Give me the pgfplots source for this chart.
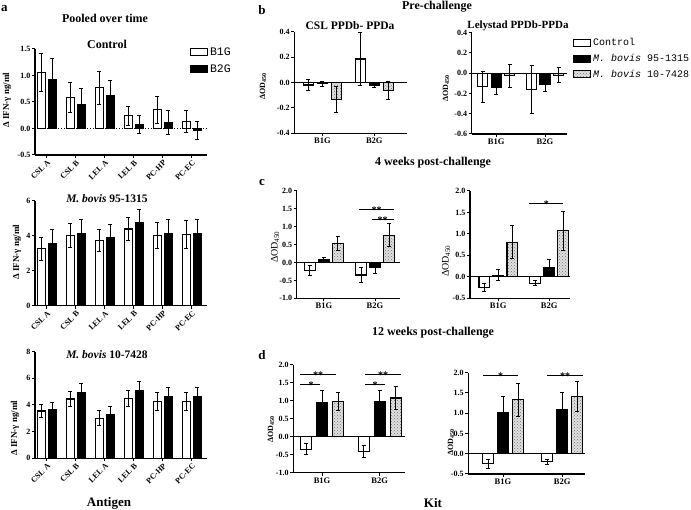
\documentclass[border=0pt]{standalone}
\usepackage{pgfplots}
\pgfplotsset{compat=1.18}
\usepackage{fontspec}
\setmainfont{Liberation Serif}
\newfontfamily\monofont{Liberation Mono}
\usetikzlibrary{patterns}
\tikzset{sigstar/.style={font=\bfseries\fontsize{10}{10}\selectfont, inner sep=0pt, anchor=base, yshift=-4pt}}
\pgfplotsset{
  base/.style={
    scale only axis, clip=false,
    axis x line*=bottom, axis y line*=left,
    axis line style={line width=1.1pt},
    tick style={line width=1pt, black},
    tick align=outside, major tick length=3pt,
    /pgf/number format/assume math mode=true,
    ticklabel style={font=\bfseries\fontsize{8}{9}\selectfont, inner sep=1.5pt},
    yticklabel style={/pgf/number format/fixed, /pgf/number format/fixed zerofill, /pgf/number format/precision=1},
    ybar,
    every axis plot/.append style={error bars/y dir=both, error bars/y explicit,
      error bars/error bar style={line width=1pt, black},
      error bars/error mark options={rotate=90, mark size=2pt, line width=1pt, black}},
    every axis plot post/.append style={legend image code/.code={\draw[##1, line width=1pt] (0pt,-3.5pt) rectangle (17pt,3.5pt);}},
    legend cell align=left,
  },
  wbar/.style={fill=white, draw=black, line width=1.1pt},
  kbar/.style={fill=black, draw=black, line width=1.1pt},
  dbar/.style={fill=black!12, draw=black, line width=1.1pt, postaction={pattern=crosshatch dots, pattern color=black!55}},
  agroup/.style={base, xmin=-0.41, xmax=5.52, xtick={0,1,2,3,4,5},
    xticklabels={CSL A, CSL B, LEL A, LEL B, PC-HP, PC-EC},
    xticklabel style={rotate=45, anchor=north east, inner sep=1pt}, bar width=8pt},
  kit/.style={base, xtick={0,1}, xticklabels={B1G,B2G},
    xticklabel style={font=\bfseries\fontsize{8.5}{9}\selectfont}},
}
\begin{document}
\begin{tikzpicture}[x=1pt,y=1pt]
\useasboundingbox (0,0) rectangle (691,510);
% ---------------- panel a top
\begin{axis}[agroup, at={(35pt,355pt)}, anchor=south west, width=172pt, height=106pt,
  ymin=-0.5, ymax=1.5, ytick={-0.5,0,0.5,1,1.5},
  legend style={at={(0.90,1.035)}, anchor=north west, draw=none, fill=none,
    font=\monofont\fontsize{11.5}{11.5}\selectfont, row sep=4pt, inner sep=0pt},
  legend entries={B1G,B2G}]
\addplot[wbar, bar shift=-5.5pt] coordinates {(0,1.05) +- (0,0.36) (1,0.58) +- (0,0.28) (2,0.77) +- (0,0.31) (3,0.24) +- (0,0.18) (4,0.35) +- (0,0.26) (5,0.13) +- (0,0.20)};
\addplot[kbar, bar shift=5.5pt] coordinates {(0,0.93) +- (0,0.39) (1,0.45) +- (0,0.30) (2,0.62) +- (0,0.28) (3,0.07) +- (0,0.17) (4,0.11) +- (0,0.22) (5,-0.03) +- (0,0.17)};
\draw[dotted, line width=0.9pt] (axis cs:-0.41,0) -- (axis cs:5.52,0);
\end{axis}
% ---------------- panel a middle
\begin{axis}[agroup, at={(35pt,204.3pt)}, anchor=south west, width=172pt, height=105pt,
  ymin=0, ymax=6, ytick={0,2,4,6},
  yticklabel style={/pgf/number format/precision=0, /pgf/number format/fixed zerofill=false}]
\addplot[wbar, bar shift=-5.5pt] coordinates {(0,3.25) +- (0,0.65) (1,4.0) +- (0,0.7) (2,3.75) +- (0,0.63) (3,4.38) +- (0,0.67) (4,4.0) +- (0,0.75) (5,4.07) +- (0,0.78)};
\addplot[kbar, bar shift=5.5pt] coordinates {(0,3.55) +- (0,0.78) (1,4.12) +- (0,0.78) (2,3.92) +- (0,0.73) (3,4.77) +- (0,0.73) (4,4.12) +- (0,0.8) (5,4.12) +- (0,0.83)};
\end{axis}
% ---------------- panel a bottom
\begin{axis}[agroup, at={(35pt,51.7pt)}, anchor=south west, width=172pt, height=106.6pt,
  ymin=0, ymax=8, ytick={0,2,4,6,8},
  yticklabel style={/pgf/number format/precision=0, /pgf/number format/fixed zerofill=false}]
\addplot[wbar, bar shift=-5.5pt] coordinates {(0,3.55) +- (0,0.5) (1,4.45) +- (0,0.6) (2,3.0) +- (0,0.55) (3,4.5) +- (0,0.62) (4,4.25) +- (0,0.7) (5,4.25) +- (0,0.7)};
\addplot[kbar, bar shift=5.5pt] coordinates {(0,3.65) +- (0,0.57) (1,4.9) +- (0,0.68) (2,3.32) +- (0,0.58) (3,5.1) +- (0,0.65) (4,4.6) +- (0,0.7) (5,4.6) +- (0,0.73)};
\end{axis}
% ---------------- panel b left
\begin{axis}[kit, at={(294.3pt,376.7pt)}, anchor=south west, width=112.7pt, height=101.6pt,
  xmin=-0.54, xmax=1.63, ymin=-0.4, ymax=0.4, ytick={-0.4,-0.2,0,0.2,0.4}, bar width=10pt]
\addplot[wbar, bar shift=-14pt] coordinates {(0,-0.02) +- (0,0.045) (1,0.185) +- (0,0.21)};
\addplot[kbar, bar shift=0pt] coordinates {(0,-0.01) +- (0,0.02) (1,-0.02) +- (0,0.02)};
\addplot[dbar, bar shift=14pt] coordinates {(0,-0.135) +- (0,0.105) (1,-0.065) +- (0,0.07)};
\draw[line width=1.1pt] (axis cs:-0.54,0) -- (axis cs:1.63,0);
\end{axis}
% ---------------- panel b right
\begin{axis}[kit, at={(471.7pt,376pt)}, anchor=south west, width=95.3pt, height=101.3pt,
  xmin=-0.5, xmax=1.45, ymin=-0.6, ymax=0.4, ytick={-0.6,-0.4,-0.2,0,0.2,0.4}, bar width=10pt,
  legend style={at={(1.063,0.965)}, anchor=north west, draw=none, fill=none,
    font=\monofont\fontsize{10}{10}\selectfont, row sep=3pt, inner sep=0pt},
  legend entries={Control, \textit{M. bovis} 95-1315, \textit{M. bovis} 10-7428}]
\addplot[wbar, bar shift=-13.5pt] coordinates {(0,-0.135) +- (0,0.15) (1,-0.16) +- (0,0.24)};
\addplot[kbar, bar shift=0pt] coordinates {(0,-0.14) +- (0,0.075) (1,-0.11) +- (0,0.07)};
\addplot[dbar, bar shift=13.5pt] coordinates {(0,-0.025) +- (0,0.115) (1,-0.02) +- (0,0.075)};
\draw[line width=1.1pt] (axis cs:-0.5,0) -- (axis cs:1.45,0);
\end{axis}
% ---------------- panel c left
\begin{axis}[kit, at={(296.7pt,211.7pt)}, anchor=south west, width=103.3pt, height=107.3pt,
  xmin=-0.535, xmax=1.49, ymin=-1, ymax=2, ytick={-1,-0.5,0,0.5,1,1.5,2}, bar width=10.5pt]
\addplot[wbar, bar shift=-14pt] coordinates {(0,-0.22) +- (0,0.13) (1,-0.35) +- (0,0.2)};
\addplot[kbar, bar shift=0pt] coordinates {(0,0.07) +- (0,0.065) (1,-0.15) +- (0,0.15)};
\addplot[dbar, bar shift=14pt] coordinates {(0,0.53) +- (0,0.2) (1,0.76) +- (0,0.32)};
\draw[line width=1.1pt] (axis cs:-0.535,0) -- (axis cs:1.49,0);
\draw[line width=0.8pt] (axis cs:0.69,1.49) -- (axis cs:1.38,1.49);
\node[sigstar] at (axis cs:1.03,1.49) {**};
\draw[line width=0.8pt] (axis cs:0.935,1.2) -- (axis cs:1.37,1.2);
\node[sigstar] at (axis cs:1.15,1.2) {**};
\end{axis}
% ---------------- panel c right
\begin{axis}[kit, at={(470pt,211.7pt)}, anchor=south west, width=100pt, height=107.3pt,
  xmin=-0.555, xmax=1.41, ymin=-0.5, ymax=2, ytick={-0.5,0,0.5,1,1.5,2}, bar width=10.5pt]
\addplot[wbar, bar shift=-14pt] coordinates {(0,-0.25) +- (0,0.09) (1,-0.15) +- (0,0.06)};
\addplot[kbar, bar shift=0pt] coordinates {(0,0.04) +- (0,0.12) (1,0.21) +- (0,0.2)};
\addplot[dbar, bar shift=14pt] coordinates {(0,0.81) +- (0,0.39) (1,1.07) +- (0,0.45)};
\draw[line width=1.1pt] (axis cs:-0.555,0) -- (axis cs:1.41,0);
\draw[line width=0.8pt] (axis cs:0.61,1.70) -- (axis cs:1.28,1.70);
\node[sigstar] at (axis cs:0.945,1.70) {*};
\end{axis}
% ---------------- panel d left
\begin{axis}[kit, at={(293.3pt,37.3pt)}, anchor=south west, width=111.7pt, height=107.7pt,
  xmin=-0.5, xmax=1.44, ymin=-1, ymax=2, ytick={-1,-0.5,0,0.5,1,1.5,2}, bar width=11pt]
\addplot[wbar, bar shift=-16pt] coordinates {(0,-0.35) +- (0,0.15) (1,-0.4) +- (0,0.17)};
\addplot[kbar, bar shift=0pt] coordinates {(0,0.95) +- (0,0.33) (1,0.97) +- (0,0.32)};
\addplot[dbar, bar shift=16pt] coordinates {(0,0.99) +- (0,0.25) (1,1.08) +- (0,0.32)};
\draw[line width=1.1pt] (axis cs:-0.5,0) -- (axis cs:1.44,0);
\draw[line width=0.8pt] (axis cs:-0.38,1.745) -- (axis cs:0.24,1.745);
\node[sigstar] at (axis cs:-0.07,1.745) {**};
\draw[line width=0.8pt] (axis cs:-0.38,1.467) -- (axis cs:-0.04,1.467);
\node[sigstar] at (axis cs:-0.19,1.467) {*};
\draw[line width=0.8pt] (axis cs:0.745,1.745) -- (axis cs:1.37,1.745);
\node[sigstar] at (axis cs:1.06,1.745) {**};
\draw[line width=0.8pt] (axis cs:0.745,1.467) -- (axis cs:1.09,1.467);
\node[sigstar] at (axis cs:0.92,1.467) {*};
\end{axis}
% ---------------- panel d right
\begin{axis}[kit, at={(468.3pt,36pt)}, anchor=south west, width=116.7pt, height=101.3pt,
  xmin=-0.586, xmax=1.385, ymin=-0.5, ymax=2, ytick={-0.5,0,0.5,1,1.5,2}, bar width=11pt]
\addplot[wbar, bar shift=-15pt] coordinates {(0,-0.25) +- (0,0.12) (1,-0.2) +- (0,0.07)};
\addplot[kbar, bar shift=0pt] coordinates {(0,1.02) +- (0,0.4) (1,1.1) +- (0,0.42)};
\addplot[dbar, bar shift=15pt] coordinates {(0,1.33) +- (0,0.4) (1,1.42) +- (0,0.37)};
\draw[line width=1.1pt] (axis cs:-0.586,0) -- (axis cs:1.385,0);
\draw[line width=0.8pt] (axis cs:-0.343,1.94) -- (axis cs:0.258,1.94);
\node[sigstar] at (axis cs:-0.04,1.94) {*};
\draw[line width=0.8pt] (axis cs:0.738,1.94) -- (axis cs:1.356,1.94);
\node[sigstar] at (axis cs:1.05,1.94) {**};
\end{axis}
% ---------------- texts
\node[font=\bfseries\fontsize{13}{13}\selectfont, anchor=west, inner sep=0pt] at (1,501) {a};
\node[font=\bfseries\fontsize{12}{12}\selectfont] at (105,492) {Pooled over time};
\node[font=\bfseries\fontsize{12}{12}\selectfont] at (107,466) {Control};
\node[font=\bfseries\fontsize{11.5}{12}\selectfont] at (107,311) {\textit{M. bovis} 95-1315};
\node[font=\bfseries\fontsize{11.5}{12}\selectfont] at (107,155) {\textit{M. bovis} 10-7428};
\node[font=\bfseries\fontsize{13}{13}\selectfont] at (109,7) {Antigen};
\node[font=\bfseries\fontsize{9}{9}\selectfont, rotate=90] at (7,410) {Δ IFN-γ ng/ml};
\node[font=\bfseries\fontsize{9}{9}\selectfont, rotate=90] at (17,258) {Δ IFN-γ ng/ml};
\node[font=\bfseries\fontsize{9}{9}\selectfont, rotate=90] at (15,82) {Δ IFN-γ ng/ml};
\node[font=\bfseries\fontsize{13}{13}\selectfont] at (262,500) {b};
\node[font=\bfseries\fontsize{12}{12}\selectfont] at (437,503) {Pre-challenge};
\node[font=\bfseries\fontsize{11.5}{12}\selectfont] at (350,484) {CSL PPDb- PPDa};
\node[font=\bfseries\fontsize{11}{12}\selectfont] at (518,484) {Lelystad PPDb-PPDa};
\node[font=\bfseries\fontsize{12}{12}\selectfont] at (433,347) {4 weeks post-challenge};
\node[font=\bfseries\fontsize{13}{13}\selectfont] at (262,327) {c};
\node[font=\bfseries\fontsize{12}{12}\selectfont] at (433,177) {12 weeks post-challenge};
\node[font=\bfseries\fontsize{13}{13}\selectfont] at (262,155) {d};
\node[font=\bfseries\fontsize{13}{13}\selectfont] at (433,7) {Kit};
\node[font=\bfseries\fontsize{8}{9}\selectfont, rotate=90] at (263,424) {ΔOD\textsubscript{450}};
\node[font=\bfseries\fontsize{8}{9}\selectfont, rotate=90] at (446,422) {ΔOD\textsubscript{450}};
\node[font=\fontsize{10}{11}\selectfont, rotate=90] at (275,263) {ΔOD\textsubscript{450}};
\node[font=\fontsize{10}{11}\selectfont, rotate=90] at (446,249) {ΔOD\textsubscript{450}};
\node[font=\bfseries\fontsize{8}{9}\selectfont, rotate=90] at (271,81) {ΔOD\textsubscript{450}};
\node[font=\bfseries\fontsize{8}{9}\selectfont, rotate=90] at (451,68) {ΔOD\textsubscript{450}};
\end{tikzpicture}
\end{document}
